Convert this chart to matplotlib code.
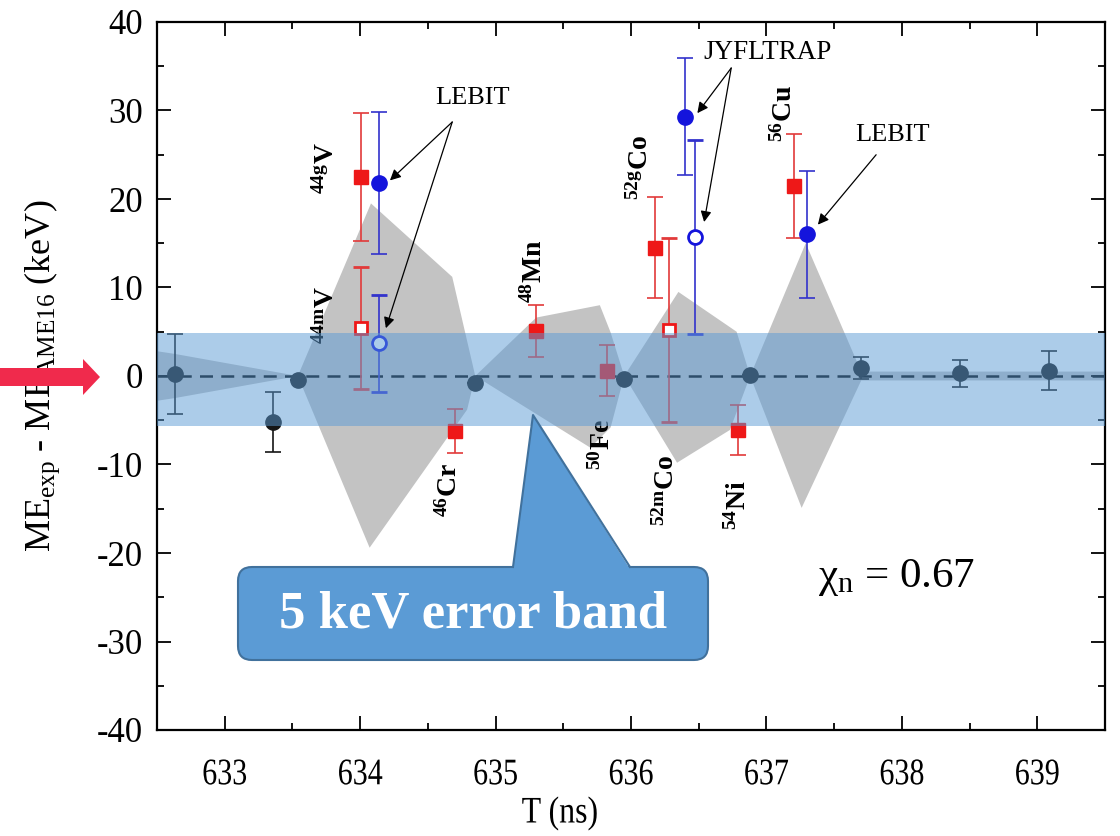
import matplotlib
matplotlib.use("Agg")
import matplotlib.pyplot as plt
from matplotlib.patches import FancyBboxPatch, Polygon, FancyArrow
from matplotlib.lines import Line2D
from matplotlib.transforms import IdentityTransform, Affine2D
from matplotlib.patheffects import AbstractPathEffect

plt.rcParams["font.family"] = ["Liberation Serif", "DejaVu Serif"]
plt.rcParams["mathtext.fontset"] = "custom"
plt.rcParams["mathtext.rm"] = "Liberation Serif"
plt.rcParams["mathtext.it"] = "Liberation Serif:italic"
plt.rcParams["mathtext.bf"] = "Liberation Serif:bold"
plt.rcParams["axes.unicode_minus"] = False

# ---- reference measurements (this work) ----
ref_t = [632.63, 633.36, 633.54, 634.85, 635.95, 636.88, 637.70, 638.43, 639.09]
ref_d = [0.2, -5.2, -0.4, -0.8, -0.3, 0.1, 0.9, 0.3, 0.6]
ref_e = [4.5, 3.4, 0.0, 0.0, 0.0, 0.0, 1.2, 1.5, 2.2]

# ---- ground states, previous values (filled red squares) ----
gs_t = [634.01, 634.70, 635.30, 635.82, 636.18, 636.79, 637.20]
gs_d = [22.5, -6.2, 5.1, 0.6, 14.5, -6.1, 21.5]
gs_e = [7.2, 2.5, 2.9, 2.9, 5.7, 2.8, 5.9]

# ---- isomers, previous values (open red squares) ----
is_t = [634.01, 636.28]
is_d = [5.4, 5.2]
is_e = [6.9, 10.4]

# ---- LEBIT / JYFLTRAP ground states (filled blue circles) ----
tr_t = [634.14, 636.40, 637.30]
tr_d = [21.8, 29.3, 16.0]
tr_e = [8.0, 6.6, 7.2]

# ---- LEBIT / JYFLTRAP isomers (open blue circles) ----
tri_t = [634.14, 636.47]
tri_d = [3.7, 15.7]
tri_e = [5.5, 11.0]

# ---- grey uncertainty envelope ----
env_up_t = [632.5, 632.63, 633.54, 634.08, 634.68, 634.85, 635.30, 635.77,
            635.85, 635.95, 636.35, 636.78, 636.88, 637.29, 637.70, 639.5]
env_up_d = [2.8, 2.5, 0.0, 19.5, 11.2, 0.0, 6.6, 8.0,
            4.9, 0.0, 9.5, 5.0, 0.0, 15.0, 0.5, 0.5]
env_lo_t = [632.5, 632.63, 633.54, 634.07, 634.79, 634.85, 635.70, 635.85,
            635.95, 636.34, 636.73, 636.88, 637.26, 637.70, 639.5]
env_lo_d = [-2.8, -2.5, 0.0, -19.4, -3.8, 0.0, -8.1, -5.8,
            0.0, -9.8, -6.1, 0.0, -14.9, -0.5, -0.5]

# ---- error band ----
band_lo, band_hi = -5.6, 4.9

# ---- axis ticks ----
x_ticks = [633, 634, 635, 636, 637, 638, 639]
x_minor = [632.5 + 0.5 * i for i in range(15)]
y_ticks = [-40, -30, -20, -10, 0, 10, 20, 30, 40]
y_minor = [-35, -25, -15, -5, 5, 15, 25, 35]

# ---- nuclide labels ----
nuc_text = [r"$^{\mathbf{44g}}$V", r"$^{\mathbf{44m}}$V", r"$^{\mathbf{46}}$Cr",
            r"$^{\mathbf{48}}$Mn", r"$^{\mathbf{50}}$Fe", r"$^{\mathbf{52g}}$Co",
            r"$^{\mathbf{52m}}$Co", r"$^{\mathbf{54}}$Ni", r"$^{\mathbf{56}}$Cu"]
nuc_t = [633.75, 633.75, 634.66, 635.29, 635.79, 636.07, 636.26, 636.79, 637.13]
nuc_d = [23.5, 6.9, -12.9, 11.8, -7.8, 23.5, -12.9, -14.6, 29.7]


class Stretch(AbstractPathEffect):
    """Scale glyph outlines about their own centre (narrow/tall lettering)."""

    def __init__(self, sx=1.0, sy=1.0):
        super().__init__()
        self._sx, self._sy = sx, sy

    def draw_path(self, renderer, gc, tpath, affine, rgbFace=None):
        bb = tpath.get_extents(affine)
        cx, cy = (bb.x0 + bb.x1) / 2, (bb.y0 + bb.y1) / 2
        aff = affine + Affine2D().translate(-cx, -cy).scale(self._sx, self._sy).translate(cx, cy)
        renderer.draw_path(gc, tpath, aff, rgbFace)


W, H = 1120, 836
fig = plt.figure(figsize=(W / 100, H / 100), dpi=100)
ax = fig.add_axes([157 / W, 1 - 730 / H, (1105 - 157) / W, (730 - 22) / H])

# envelope
poly_t = env_up_t + env_lo_t[::-1]
poly_d = env_up_d + env_lo_d[::-1]
ax.fill(poly_t, poly_d, color="#c3c3c3", lw=0, zorder=1)

ax.axhline(0, color="black", lw=1.8, dashes=(5.2, 3.3), zorder=2)

eb_kw = dict(ls="none", capsize=6, elinewidth=1.2, capthick=1.2)
ax.errorbar(ref_t, ref_d, yerr=ref_e, fmt="o", color="#151515", ms=11, zorder=4, **eb_kw)
ax.errorbar(gs_t, gs_d, yerr=gs_e, fmt="s", color="#ee1818", ecolor="#e23a3a",
            ms=9.5, zorder=4, **eb_kw)
ax.errorbar(is_t, is_d, yerr=is_e, fmt="s", color="#e23a3a", mfc="white",
            mec="#ee1818", mew=2, ms=9, zorder=4, **eb_kw)
ax.errorbar(tr_t, tr_d, yerr=tr_e, fmt="o", color="#1414dc", ecolor="#3232cc",
            ms=11, zorder=4, **eb_kw)
ax.errorbar(tri_t, tri_d, yerr=tri_e, fmt="o", color="#3232cc", mfc="white",
            mec="#1414dc", mew=2, ms=10, zorder=4, **eb_kw)

for s, t, d in zip(nuc_text, nuc_t, nuc_d):
    ax.text(t, d, s, rotation=90, ha="center", va="center", fontsize=20,
            fontweight="bold", zorder=5)

# facility annotations
arr_kw = dict(arrowstyle="-|>", color="black", lw=0.9, mutation_scale=16,
              shrinkA=0, shrinkB=0)
ax.text(634.83, 31.4, "LEBIT", ha="center", va="center", fontsize=19, zorder=6)
ax.annotate("", xy=(634.22, 22.1), xytext=(634.68, 28.7), arrowprops=arr_kw, zorder=6)
ax.annotate("", xy=(634.19, 5.4), xytext=(634.68, 28.7), arrowprops=arr_kw, zorder=6)

ax.text(637.01, 36.5, "JYFLTRAP", ha="center", va="center", fontsize=19.5, zorder=6)
ax.annotate("", xy=(636.49, 29.7), xytext=(636.74, 34.8), arrowprops=arr_kw, zorder=6)
ax.annotate("", xy=(636.54, 17.4), xytext=(636.74, 34.8), arrowprops=arr_kw, zorder=6)

ax.text(637.93, 27.2, "LEBIT", ha="center", va="center", fontsize=19, zorder=6)
ax.annotate("", xy=(637.38, 17.1), xytext=(637.81, 25.0), arrowprops=arr_kw, zorder=6)

ax.text(637.96, -22.8, r"χ$_{\rm n}$ = 0.67", ha="center", va="center", fontsize=31)

# translucent error band over everything in the axes
ax.axhspan(band_lo, band_hi, color="#5b9bd5", alpha=0.5, lw=0, zorder=10)

# axes styling
ax.set_xlim(632.5, 639.5)
ax.set_ylim(-40, 40)
ax.set_xticks(x_ticks)
ax.set_xticks(x_minor, minor=True)
ax.set_yticks(y_ticks)
ax.set_yticks(y_minor, minor=True)
ax.tick_params(which="both", direction="in", top=True, right=True, width=1.3)
ax.tick_params(which="major", length=10)
ax.tick_params(which="minor", length=5)
ax.tick_params(axis="y", labelsize=25, pad=10)
ax.tick_params(axis="x", labelsize=27, pad=20)
for lab in ax.get_xticklabels():
    lab.set_path_effects([Stretch(sx=0.8)])
for sp in ax.spines.values():
    sp.set_linewidth(1.6)

xl = ax.set_xlabel("T (ns)", fontsize=27)
xl.set_path_effects([Stretch(sx=0.85)])
ax.set_ylabel(r"ME$_{\rm exp}$ - ME$_{\rm AME16}$ (keV)", fontsize=26)
ax.xaxis.set_label_coords((560 - 157) / 948, (730 - 796) / 708)
ax.yaxis.set_label_coords((62 - 157) / 948, 0.5)

# callout box
ident = IdentityTransform()
box = FancyBboxPatch((238, H - 660), 470, 93,
                     boxstyle="round,pad=0,rounding_size=14",
                     fc="#5b9bd5", ec="#41719c", lw=1.5, transform=ident)
fig.add_artist(box)
wedge = Polygon([(513, H - 569), (533, H - 415), (630, H - 569)], closed=True,
                fc="#5b9bd5", ec="none", transform=ident)
fig.add_artist(wedge)
fig.add_artist(Line2D([513, 533, 630], [H - 567, H - 415, H - 567],
                      color="#41719c", lw=1.5, transform=ident))
fig.text(473 / W, 1 - 614 / H, "5 keV error band", color="white",
         fontsize=38, fontweight="bold", ha="center", va="center")

# pointer arrow on the zero line
fig.add_artist(FancyArrow(0, H - 377, 100, 0, width=18, head_width=36,
                          head_length=17, length_includes_head=True,
                          fc="#f02a4c", ec="none", transform=ident))

fig.savefig("out.png", dpi=100)
